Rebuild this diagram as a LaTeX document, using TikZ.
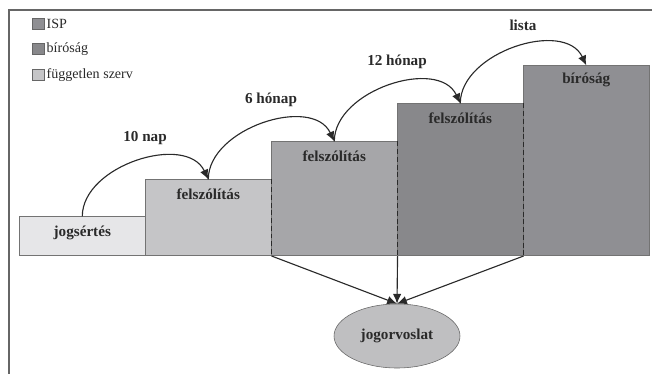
\documentclass[tikz,border=0pt]{standalone}
\usepackage{fontspec}
\setmainfont{Liberation Serif}
\usetikzlibrary{arrows.meta,positioning,shapes.geometric}
\definecolor{fillA}{HTML}{E6E6E8}
\definecolor{fillB}{HTML}{C5C5C7}
\definecolor{fillC}{HTML}{A6A6A9}
\definecolor{fillD}{HTML}{88888B}
\definecolor{fillE}{HTML}{8F8F93}
\definecolor{fillEl}{HTML}{BFBFC1}
\definecolor{ink}{HTML}{2A2A2A}
\tikzset{
  box/.style={draw=black!55,thin,rectangle,inner sep=0,anchor=south west,minimum width=3.15cm},
  lbl/.style={text=ink,font=\bfseries\fontsize{10.8}{12}\selectfont},
  arr/.style={draw=ink,thick,-{Latex[length=7pt,width=6pt]}},
  dashline/.style={draw=ink,line width=0.9pt,dash pattern=on 3.5pt off 2pt},
  key/.style={draw=black!60,rectangle,inner sep=0,minimum width=0.3cm,minimum height=0.275cm},
  keytext/.style={text=ink,inner sep=1pt,font=\fontsize{10}{12}\selectfont}
}
\begin{document}
\begin{tikzpicture}
 \useasboundingbox (0,0) rectangle (16.35,9.35);
 % frame
 \draw[black!60,line width=1.3pt] (16.3,9.1) -- (0.225,9.1) -- (0.225,0);
 % legend
 \node[key,fill=fillE] (k1) at (0.95,8.75) {};
 \node[keytext,right=0.5pt of k1] (k1t) {ISP};
 \node[key,fill=fillD] (k2) at (0.95,8.125) {};
 \node[keytext,right=0.5pt of k2] (k2t) {bíróság};
 \node[key,fill=fillB] (k3) at (0.95,7.475) {};
 \node[keytext,right=0.5pt of k3] (k3t) {független szerv};
 % steps
 \node[box,fill=fillA,minimum height=0.975cm] (b0) at (0.475,2.95) {};
 \node[box,fill=fillB,minimum height=1.9cm] (b1) at (3.625,2.95) {};
 \node[box,fill=fillC,minimum height=2.85cm] (b2) at (6.775,2.95) {};
 \node[box,fill=fillD,minimum height=3.8cm] (b3) at (9.925,2.95) {};
 \node[box,fill=fillE,minimum height=4.75cm] (b4) at (13.075,2.95) {};
 \node[lbl] (t0) at ([yshift=-0.4cm]b0.north) {jogsértés};
 \node[lbl] (t1) at ([yshift=-0.37cm]b1.north) {felszólítás};
 \node[lbl] (t2) at ([yshift=-0.37cm]b2.north) {felszólítás};
 \node[lbl] (t3) at ([yshift=-0.37cm]b3.north) {felszólítás};
 \node[lbl] (t4) at ([yshift=-0.37cm]b4.north) {bíróság};
 \draw[dashline] (b1.north east) -- (b1.south east);
 \draw[dashline] (b2.north east) -- (b2.south east);
 \draw[dashline] (b3.north east) -- (b3.south east);
 % time limits
 \draw[arr] (b0.north) to[out=90,in=115] (b1.north);
 \draw[arr] (b1.north) to[out=90,in=115] (b2.north);
 \draw[arr] (b2.north) to[out=90,in=115] (b3.north);
 \draw[arr] (b3.north) to[out=90,in=115] (b4.north);
 \node[lbl] (l1) at ([yshift=1.03cm]b1.north west) {10 nap};
 \node[lbl] (l2) at ([yshift=1.03cm]b2.north west) {6 hónap};
 \node[lbl] (l3) at ([yshift=1.03cm]b3.north west) {12 hónap};
 \node[lbl] (l4) at ([yshift=1.0cm]b4.north west) {lista};
 % remedy
 \node[ellipse,draw=black!60,fill=fillEl,inner sep=0,minimum width=3.15cm,minimum height=1.6cm,lbl] (el) at (9.925,0.95) {jogorvoslat};
 \draw[arr] (b1.south east) -- (el.north);
 \draw[arr] (b2.south east) -- (el.north);
 \draw[arr] (b3.south east) -- (el.north);
\end{tikzpicture}
\end{document}
